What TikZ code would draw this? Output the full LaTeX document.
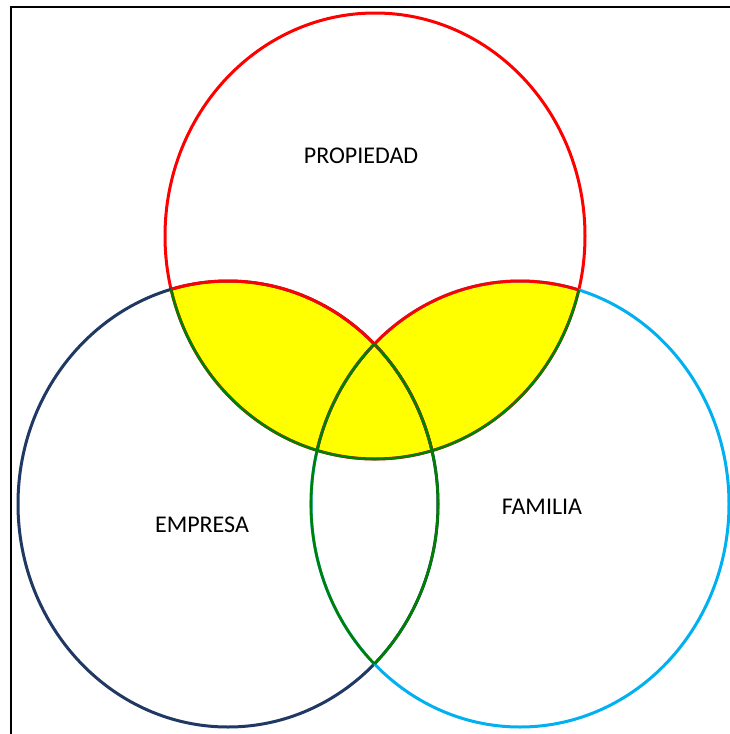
\documentclass[tikz,border=0pt]{standalone}
\usepackage{fontspec}
\setmainfont{Carlito}
\definecolor{propred}{RGB}{255,0,0}
\definecolor{empnavy}{RGB}{31,56,100}
\definecolor{famcyan}{RGB}{0,176,240}
\definecolor{overlapgreen}{RGB}{0,128,0}
\definecolor{overlapyellow}{RGB}{255,255,0}
\tikzset{
  ringP/.style={insert path={(375,236) ellipse [x radius=210pt, y radius=223pt]}},
  ringE/.style={insert path={(228,504) ellipse [x radius=210pt, y radius=223pt]}},
  ringF/.style={insert path={(520,504) ellipse [x radius=209pt, y radius=223pt]}},
  ringline/.style={line width=3pt},
  lensline/.style={line width=2.6pt, overlapgreen},
  label/.style={font=\fontsize{24}{28}\selectfont, text=black, inner sep=0pt}
}
\begin{document}
\begin{tikzpicture}[x=1pt,y=-1pt]
\useasboundingbox (0,0) rectangle (730,734);
\fill[white] (0,0) rectangle (730,734);
% frame
\draw[line width=2.8pt] (11,740) -- (11,7) -- (740,7);

% yellow: propiedad overlapping empresa or familia
\begin{scope}
  \clip[ringP];
  \fill[overlapyellow, ringE];
  \fill[overlapyellow, ringF];
\end{scope}

% full outlines
\draw[ringline, propred, ringP];
\draw[ringline, empnavy, ringE];
\draw[ringline, famcyan, ringF];

% empresa and familia edges inside propiedad
\begin{scope}
  \clip[ringP];
  \draw[ringline, propred, ringE];
  \draw[ringline, propred, ringF];
\end{scope}

% propiedad edge inside empresa or familia
\begin{scope}
  \clip[ringE, ringF];
  \draw[lensline, ringP];
\end{scope}

% lens between empresa and familia
\begin{scope}
  \clip[ringF];
  \draw[lensline, ringE];
\end{scope}
\begin{scope}
  \clip[ringE];
  \draw[lensline, ringF];
\end{scope}

% labels
\node[label] (propiedad) at (361,156) {PROPIEDAD};
\node[label] (empresa) at (202,525) {EMPRESA};
\node[label] (familia) at (542,507) {FAMILIA};
\end{tikzpicture}
\end{document}
